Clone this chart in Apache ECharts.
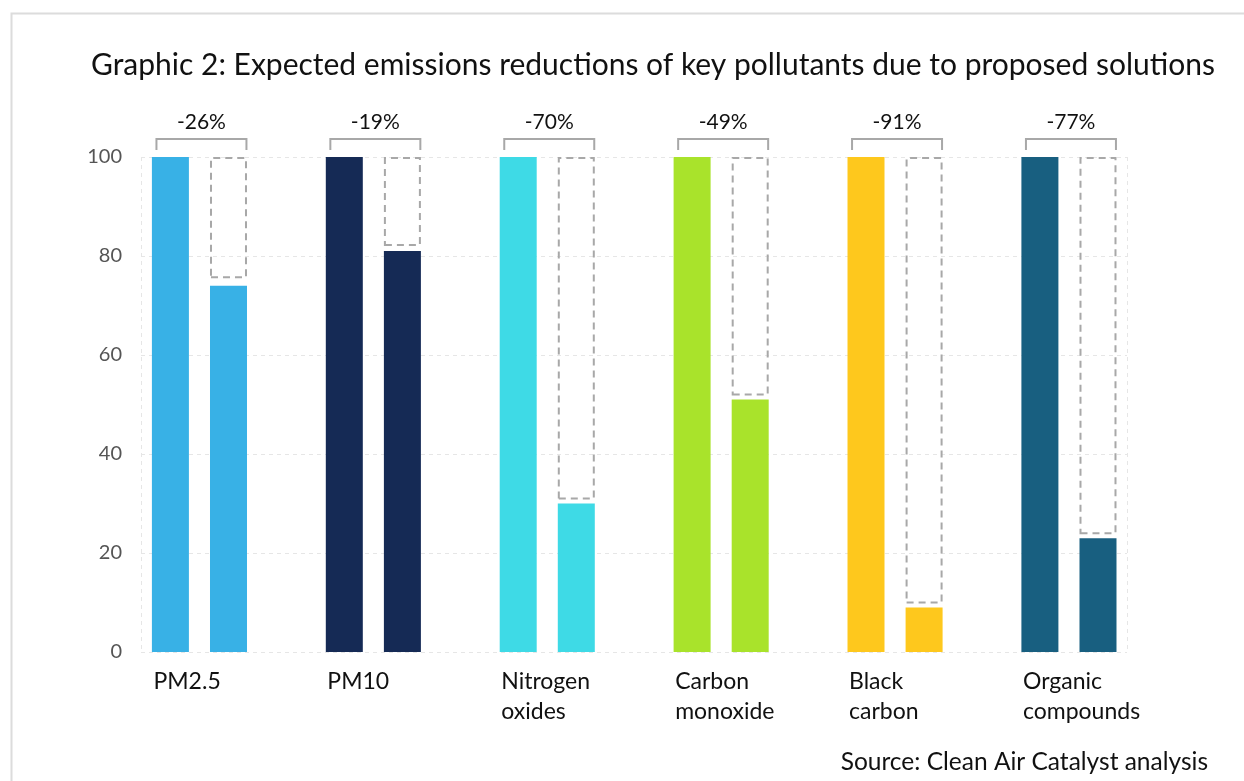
<!DOCTYPE html>
<html>
<head>
<meta charset="utf-8">
<script src="https://cdn.jsdelivr.net/npm/echarts@6/dist/echarts.min.js"></script>
<style>
html,body{margin:0;padding:0;background:#fff;}
#chart{width:1244px;height:781px;}
</style>
</head>
<body>
<div id="chart"></div>
<script>
const categories = ['PM2.5', 'PM10', 'Nitrogen\noxides', 'Carbon\nmonoxide', 'Black\ncarbon', 'Organic\ncompounds'];
const baseline = [100, 100, 100, 100, 100, 100];
const afterValues = [74, 81, 30, 51, 9, 23];
const outlineBottoms = [75.5, 82, 30.8, 51.8, 9.8, 23.8];
const reductions = ['-26%', '-19%', '-70%', '-49%', '-91%', '-77%'];
const yTicks = [0, 20, 40, 60, 80, 100];
const colors = ['#38B1E6', '#152A55', '#3EDAE6', '#A9E32B', '#FEC81D', '#185F80'];

const FONT = 'Lato';
const chart = echarts.init(document.getElementById('chart'));

const option = {
  backgroundColor: '#fff',
  animation: false,
  graphic: [{
    type: 'rect', left: 9, top: 11, silent: true,
    shape: { width: 1400, height: 900 },
    style: { fill: 'none', stroke: '#dcdcdc', lineWidth: 2 }
  }],
  title: [{
    text: 'Graphic 2: Expected emissions reductions of key pollutants due to proposed solutions',
    left: 86, top: 45,
    textStyle: { fontFamily: FONT, fontSize: 30, fontWeight: 'normal', color: '#111' }
  }, {
    text: 'Source: Clean Air Catalyst analysis',
    right: 31, top: 745,
    textStyle: { fontFamily: FONT, fontSize: 24.5, fontWeight: 'normal', color: '#111' }
  }],
  grid: [
    { left: 141, right: 117, top: 157, bottom: 129 },
    { left: 112.5, width: 1043.4, top: 157, bottom: 129 }
  ],
  xAxis: [{
    gridIndex: 0, type: 'value', min: 0, max: 1, interval: 1,
    axisLine: { show: false }, axisTick: { show: false }, axisLabel: { show: false },
    splitLine: { show: true, lineStyle: { color: '#e6e6e6', type: [4, 4], width: 1 } }
  }, {
    gridIndex: 1, type: 'category', data: categories,
    axisLine: { show: false }, axisTick: { show: false },
    axisLabel: {
      fontFamily: FONT, fontSize: 23, color: '#111', lineHeight: 30,
      align: 'left', padding: [0, 0, 0, -46], margin: 15, interval: 0
    },
    splitLine: { show: false }
  }],
  yAxis: [{
    gridIndex: 0, type: 'value', min: 0, max: 100, interval: 20,
    axisLine: { show: false }, axisTick: { show: false },
    axisLabel: { fontFamily: FONT, fontSize: 20, color: '#555', margin: 19,
      formatter: v => yTicks.includes(v) ? String(v) : '' },
    splitLine: { show: true, lineStyle: { color: '#e6e6e6', type: [4, 4], width: 1 } }
  }, {
    gridIndex: 1, type: 'value', min: 0, max: 100, interval: 20, show: false,
    splitLine: { show: false }
  }],
  series: [{
    name: 'Baseline', type: 'bar', xAxisIndex: 1, yAxisIndex: 1, stack: 'a',
    barWidth: 37, barGap: '57%',
    data: baseline.map((v, i) => ({ value: v, itemStyle: { color: colors[i] } }))
  }, {
    name: 'After', type: 'bar', xAxisIndex: 1, yAxisIndex: 1, stack: 'b',
    barWidth: 37, barGap: '57%',
    data: afterValues.map((v, i) => ({ value: v, itemStyle: { color: colors[i] } }))
  }, {
    name: 'gap', type: 'bar', xAxisIndex: 1, yAxisIndex: 1, stack: 'b', silent: true,
    barWidth: 37,
    itemStyle: { color: 'rgba(0,0,0,0)' },
    data: outlineBottoms.map((v, i) => v - afterValues[i])
  }, {
    name: 'Reduction', type: 'bar', xAxisIndex: 1, yAxisIndex: 1, stack: 'b', silent: true,
    barWidth: 37,
    itemStyle: { color: 'rgba(0,0,0,0)', borderColor: '#a8a8a8', borderWidth: 2, borderType: [7, 5] },
    data: outlineBottoms.map(v => 100 - v)
  }, {
    name: 'brackets', type: 'custom', xAxisIndex: 1, yAxisIndex: 1, silent: true,
    data: baseline.map((v, i) => [i, v]),
    renderItem: function (params, api) {
      const p = api.coord([api.value(0), api.value(1)]);
      const cx = p[0] + 2, y = p[1];
      return {
        type: 'group',
        children: [{
          type: 'polyline',
          shape: { points: [[cx - 45, y - 7], [cx - 45, y - 18], [cx + 45, y - 18], [cx + 45, y - 7]] },
          style: { stroke: '#a8a8a8', lineWidth: 2, fill: null }
        }, {
          type: 'text',
          x: cx, y: y - 35,
          style: {
            text: reductions[params.dataIndex], fontFamily: FONT, fontSize: 21,
            fill: '#111', align: 'center', verticalAlign: 'middle'
          }
        }]
      };
    }
  }]
};
chart.setOption(option);
</script>
</body>
</html>
